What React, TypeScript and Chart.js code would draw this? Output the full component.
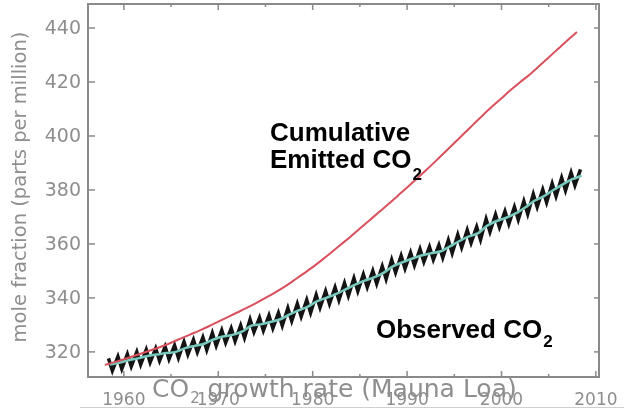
import React, { useEffect, useRef } from 'react';
import { Chart, registerables } from 'chart.js';

Chart.register(...registerables);

// ---- data (ppm) ----
const years = [
  1958, 1959, 1960, 1961, 1962, 1963, 1964, 1965, 1966, 1967,
  1968, 1969, 1970, 1971, 1972, 1973, 1974, 1975, 1976, 1977,
  1978, 1979, 1980, 1981, 1982, 1983, 1984, 1985, 1986, 1987,
  1988, 1989, 1990, 1991, 1992, 1993, 1994, 1995, 1996, 1997,
  1998, 1999, 2000, 2001, 2002, 2003, 2004, 2005, 2006, 2007, 2008,
];

// Observed CO2 (Mauna Loa), smoothed annual trend
const trendPpm = [
  315.3, 316.0, 316.9, 317.6, 318.5, 319.0, 319.6, 320.0, 321.4, 322.2,
  323.0, 324.6, 325.7, 326.3, 327.5, 329.7, 330.2, 331.1, 332.0, 333.8,
  335.4, 336.8, 338.8, 340.1, 341.5, 343.2, 344.9, 346.4, 347.6, 349.3,
  351.7, 353.2, 354.5, 355.7, 356.5, 357.2, 359.0, 361.0, 362.7, 363.9,
  366.8, 368.5, 369.7, 371.3, 373.5, 376.0, 377.7, 380.0, 382.1, 384.0, 385.3,
];

// Observed CO2, seasonal maxima (spring) per year
const peakPpm = [
  317.6, 318.3, 319.2, 320.0, 320.8, 321.3, 322.0, 322.4, 323.7, 324.5,
  325.4, 327.0, 328.0, 328.7, 329.8, 332.0, 332.6, 333.5, 334.4, 336.2,
  337.8, 339.2, 341.1, 342.5, 343.9, 345.5, 347.3, 348.7, 350.0, 351.7,
  354.1, 355.6, 356.8, 358.1, 358.9, 359.6, 361.4, 363.4, 365.1, 366.3,
  369.2, 370.9, 372.1, 373.7, 375.8, 378.4, 380.1, 382.4, 384.5, 386.4, 387.6,
];

// Observed CO2, seasonal minima (autumn) per year (1958-2007)
const troughPpm = [
  313.0, 313.7, 314.6, 315.3, 316.1, 316.7, 317.3, 317.8, 319.1, 319.9,
  320.7, 322.3, 323.4, 324.0, 325.2, 327.4, 327.9, 328.8, 329.7, 331.5,
  333.1, 334.5, 336.4, 337.8, 339.2, 340.8, 342.5, 344.0, 345.3, 347.0,
  349.4, 350.9, 352.1, 353.4, 354.2, 354.9, 356.6, 358.7, 360.4, 361.6,
  364.5, 366.2, 367.4, 369.0, 371.1, 373.7, 375.4, 377.7, 379.8, 381.7,
];

// Cumulative emitted CO2 (expressed as ppm)
const emittedPpm = [
  315.2, 316.2, 317.3, 318.4, 319.6, 320.8, 322.0, 323.4, 324.9, 326.4,
  327.9, 329.5, 331.2, 332.9, 334.6, 336.3, 338.1, 340.0, 342.0, 344.1,
  346.5, 348.9, 351.4, 354.1, 356.9, 359.8, 362.7, 365.7, 368.7, 371.7,
  374.7, 377.8, 380.9, 384.1, 387.3, 390.6, 394.0, 397.4, 400.8, 404.2,
  407.6, 410.9, 414.0, 417.1, 420.0, 422.8, 425.9, 429.1, 432.3, 435.5, 438.5,
];

const yTicks = [320, 340, 360, 380, 400, 420, 440];
const xLabelTicks = [1960, 1970, 1980, 1990, 2000, 2010];
const xAllTicks = [1960, 1965, 1970, 1975, 1980, 1985, 1990, 1995, 2000, 2005, 2010];

const PEAK_PHASE = 0.37;
const TROUGH_PHASE = 0.78;
const TREND_PHASE = 0.5;

function buildObserved() {
  const pts: { x: number; y: number }[] = [];
  years.forEach((yr, i) => {
    pts.push({ x: yr + PEAK_PHASE, y: peakPpm[i] });
    if (troughPpm[i] !== undefined) pts.push({ x: yr + TROUGH_PHASE, y: troughPpm[i] });
  });
  return pts;
}

const GRAY = '#8e8e8e';
const THIN = '"DejaVu Sans", "Open Sans", sans-serif';
const BOLD = '"Liberation Sans", Arial, sans-serif';

const decor = {
  id: 'decor',
  afterDraw(chart: any) {
    const { ctx, chartArea: a, scales } = chart;
    const x = scales.x;
    const y = scales.y;
    ctx.save();

    const line = (x1: number, y1: number, x2: number, y2: number) => {
      ctx.beginPath();
      ctx.moveTo(x1, y1);
      ctx.lineTo(x2, y2);
      ctx.stroke();
    };

    // frame
    ctx.strokeStyle = '#8a8a8a';
    ctx.lineWidth = 2;
    ctx.strokeRect(a.left, a.top, a.right - a.left, a.bottom - a.top);

    // ticks (inward)
    ctx.lineWidth = 1.5;
    yTicks.forEach((v) => {
      const py = y.getPixelForValue(v);
      line(a.left, py, a.left + 7, py);
      line(a.right, py, a.right - 5, py);
    });
    xAllTicks.forEach((v) => {
      const px = x.getPixelForValue(v);
      const len = v % 10 === 0 ? 6 : 3;
      line(px, a.bottom, px, a.bottom - len);
      line(px, a.top, px, a.top + len);
    });

    // bottom faint rule
    ctx.strokeStyle = '#d0d0d0';
    ctx.lineWidth = 1;
    line(80, 407.5, 624, 407.5);

    // y tick labels
    ctx.fillStyle = GRAY;
    ctx.font = `19px ${THIN}`;
    ctx.textAlign = 'right';
    ctx.textBaseline = 'middle';
    yTicks.forEach((v) => ctx.fillText(String(v), a.left - 7, y.getPixelForValue(v) + 1));

    // x tick labels
    ctx.font = `17px ${THIN}`;
    ctx.textAlign = 'center';
    ctx.textBaseline = 'alphabetic';
    xLabelTicks.forEach((v) => ctx.fillText(String(v), x.getPixelForValue(v), 405));

    // overlapping leftover caption
    ctx.textAlign = 'left';
    ctx.font = `25px ${THIN}`;
    let cx = 152;
    ctx.fillText('CO', cx, 397);
    cx += ctx.measureText('CO').width + 1;
    ctx.font = `15px ${THIN}`;
    ctx.fillText('2', cx, 403);
    cx += ctx.measureText('2').width;
    ctx.font = `25px ${THIN}`;
    ctx.fillText(' growth rate (Mauna Loa)', cx, 397);

    // y axis title
    ctx.save();
    ctx.translate(21, 187);
    ctx.rotate(-Math.PI / 2);
    ctx.textAlign = 'center';
    ctx.textBaseline = 'middle';
    ctx.font = `19.5px ${THIN}`;
    ctx.fillText('mole fraction (parts per million)', 0, 0);
    ctx.restore();

    // annotations
    ctx.fillStyle = '#000';
    ctx.textAlign = 'left';
    ctx.textBaseline = 'alphabetic';
    ctx.font = `bold 26px ${BOLD}`;
    ctx.fillText('Cumulative', 270, 141);
    ctx.fillText('Emitted CO', 270, 168);
    const ex = 270 + ctx.measureText('Emitted CO').width + 1;
    ctx.fillText('Observed CO', 376, 338);
    const ox = 376 + ctx.measureText('Observed CO').width + 1;
    ctx.font = `bold 17px ${BOLD}`;
    ctx.fillText('2', ex, 180);
    ctx.fillText('2', ox, 347);

    ctx.restore();
  },
};

export default function App() {
  const ref = useRef<HTMLCanvasElement | null>(null);

  useEffect(() => {
    document.body.style.margin = '0';
    const canvas = ref.current;
    if (!canvas) return;
    const chart = new Chart(canvas, {
      type: 'line',
      data: {
        datasets: [
          {
            label: 'Cumulative Emitted CO2',
            data: years.map((yr, i) => ({ x: yr, y: emittedPpm[i] })),
            borderColor: '#d8505c',
            borderWidth: 2,
            pointRadius: 0,
            cubicInterpolationMode: 'monotone',
            fill: false,
            order: 0,
          },
          {
            label: 'Trend',
            data: years.map((yr, i) => ({ x: yr + TREND_PHASE, y: trendPpm[i] })),
            borderColor: '#78c9bd',
            borderWidth: 2.5,
            pointRadius: 0,
            tension: 0.3,
            fill: false,
            order: 1,
          },
          {
            label: 'Observed CO2',
            data: buildObserved(),
            borderColor: '#141414',
            borderWidth: 3.5,
            borderJoinStyle: 'miter',
            pointRadius: 0,
            tension: 0,
            fill: false,
            order: 2,
          },
        ],
      },
      options: {
        animation: false,
        responsive: false,
        maintainAspectRatio: false,
        layout: { padding: { left: 88, right: 25, top: 4, bottom: 33 } },
        plugins: { legend: { display: false }, tooltip: { enabled: false } },
        scales: {
          x: { type: 'linear', min: 1956.2, max: 2010.33, display: false },
          y: { type: 'linear', min: 310.7, max: 448.9, display: false },
        },
      },
      plugins: [decor],
    });
    return () => chart.destroy();
  }, []);

  return <canvas ref={ref} width={624} height={410} style={{ display: 'block' }} />;
}
